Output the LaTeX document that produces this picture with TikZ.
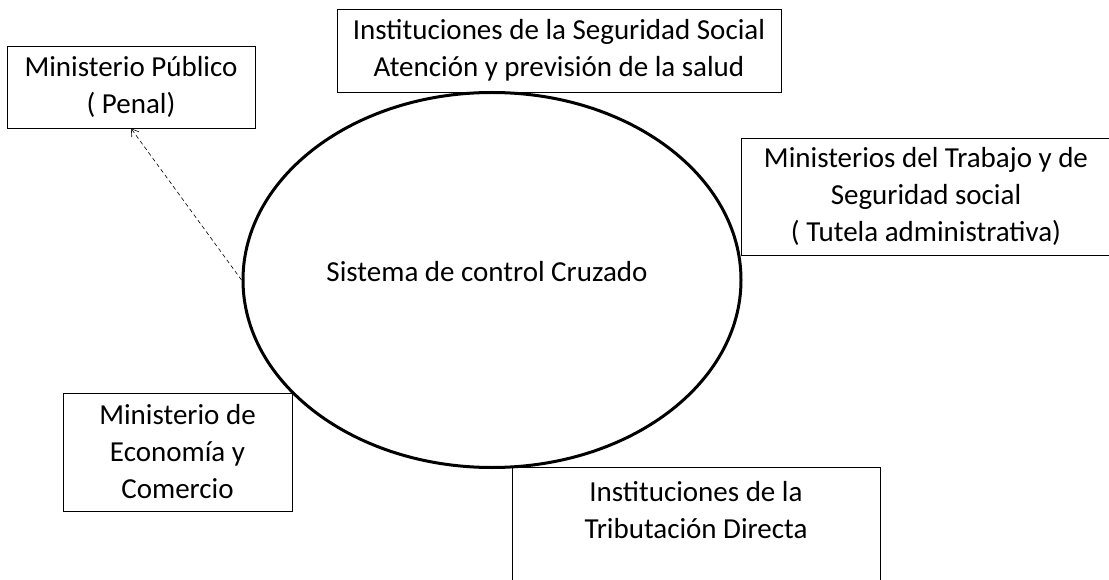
\documentclass[tikz,border=0pt]{standalone}
\usepackage{fontspec}
\setmainfont{Carlito}
\usetikzlibrary{shapes.geometric, arrows.meta}
\begin{document}
\begin{tikzpicture}[x=1pt, y=-1pt, font=\fontsize{29}{37}\selectfont,
    box/.style={draw, line width=0.8pt, align=center, inner sep=0pt},
    oval/.style={draw, ellipse, line width=3pt, inner sep=0pt}]
    \useasboundingbox (0,0) rectangle (1109,580);
    % Ellipse
    \node[oval, minimum width=498pt, minimum height=375pt] (sistema) at (492,280) {};
    \node (sistematxt) at (487,272) {Sistema de control Cruzado};
    % Boxes
    \node[box, minimum width=248pt, minimum height=82pt] (penal) at (131,87) {Ministerio Público\\( Penal)};
    \node[box, minimum width=444pt, minimum height=83pt] (segsocial) at (559,50.5) {Instituciones de la Seguridad Social\\Atención y previsión de la salud};
    \node[box, minimum width=370pt, minimum height=117pt] (trabajo) at (926,196.5) {Ministerios del Trabajo y de\\Seguridad social\\( Tutela administrativa)};
    \node[box, minimum width=229pt, minimum height=118pt] (economia) at (177.5,452) {Ministerio de\\Economía y\\Comercio};
    \node[box, minimum width=368pt, minimum height=133pt] (tributacion) at (696,533.5) {};
    \node[align=center] (tributaciontxt) at (696,510) {Instituciones de la\\Tributación Directa};
    % Arrow
    \draw[-{Straight Barb[length=7pt, width=9pt]}, line width=0.6pt, dash pattern=on 4pt off 3pt] (sistema.west) -- (penal.south);
\end{tikzpicture}
\end{document}
